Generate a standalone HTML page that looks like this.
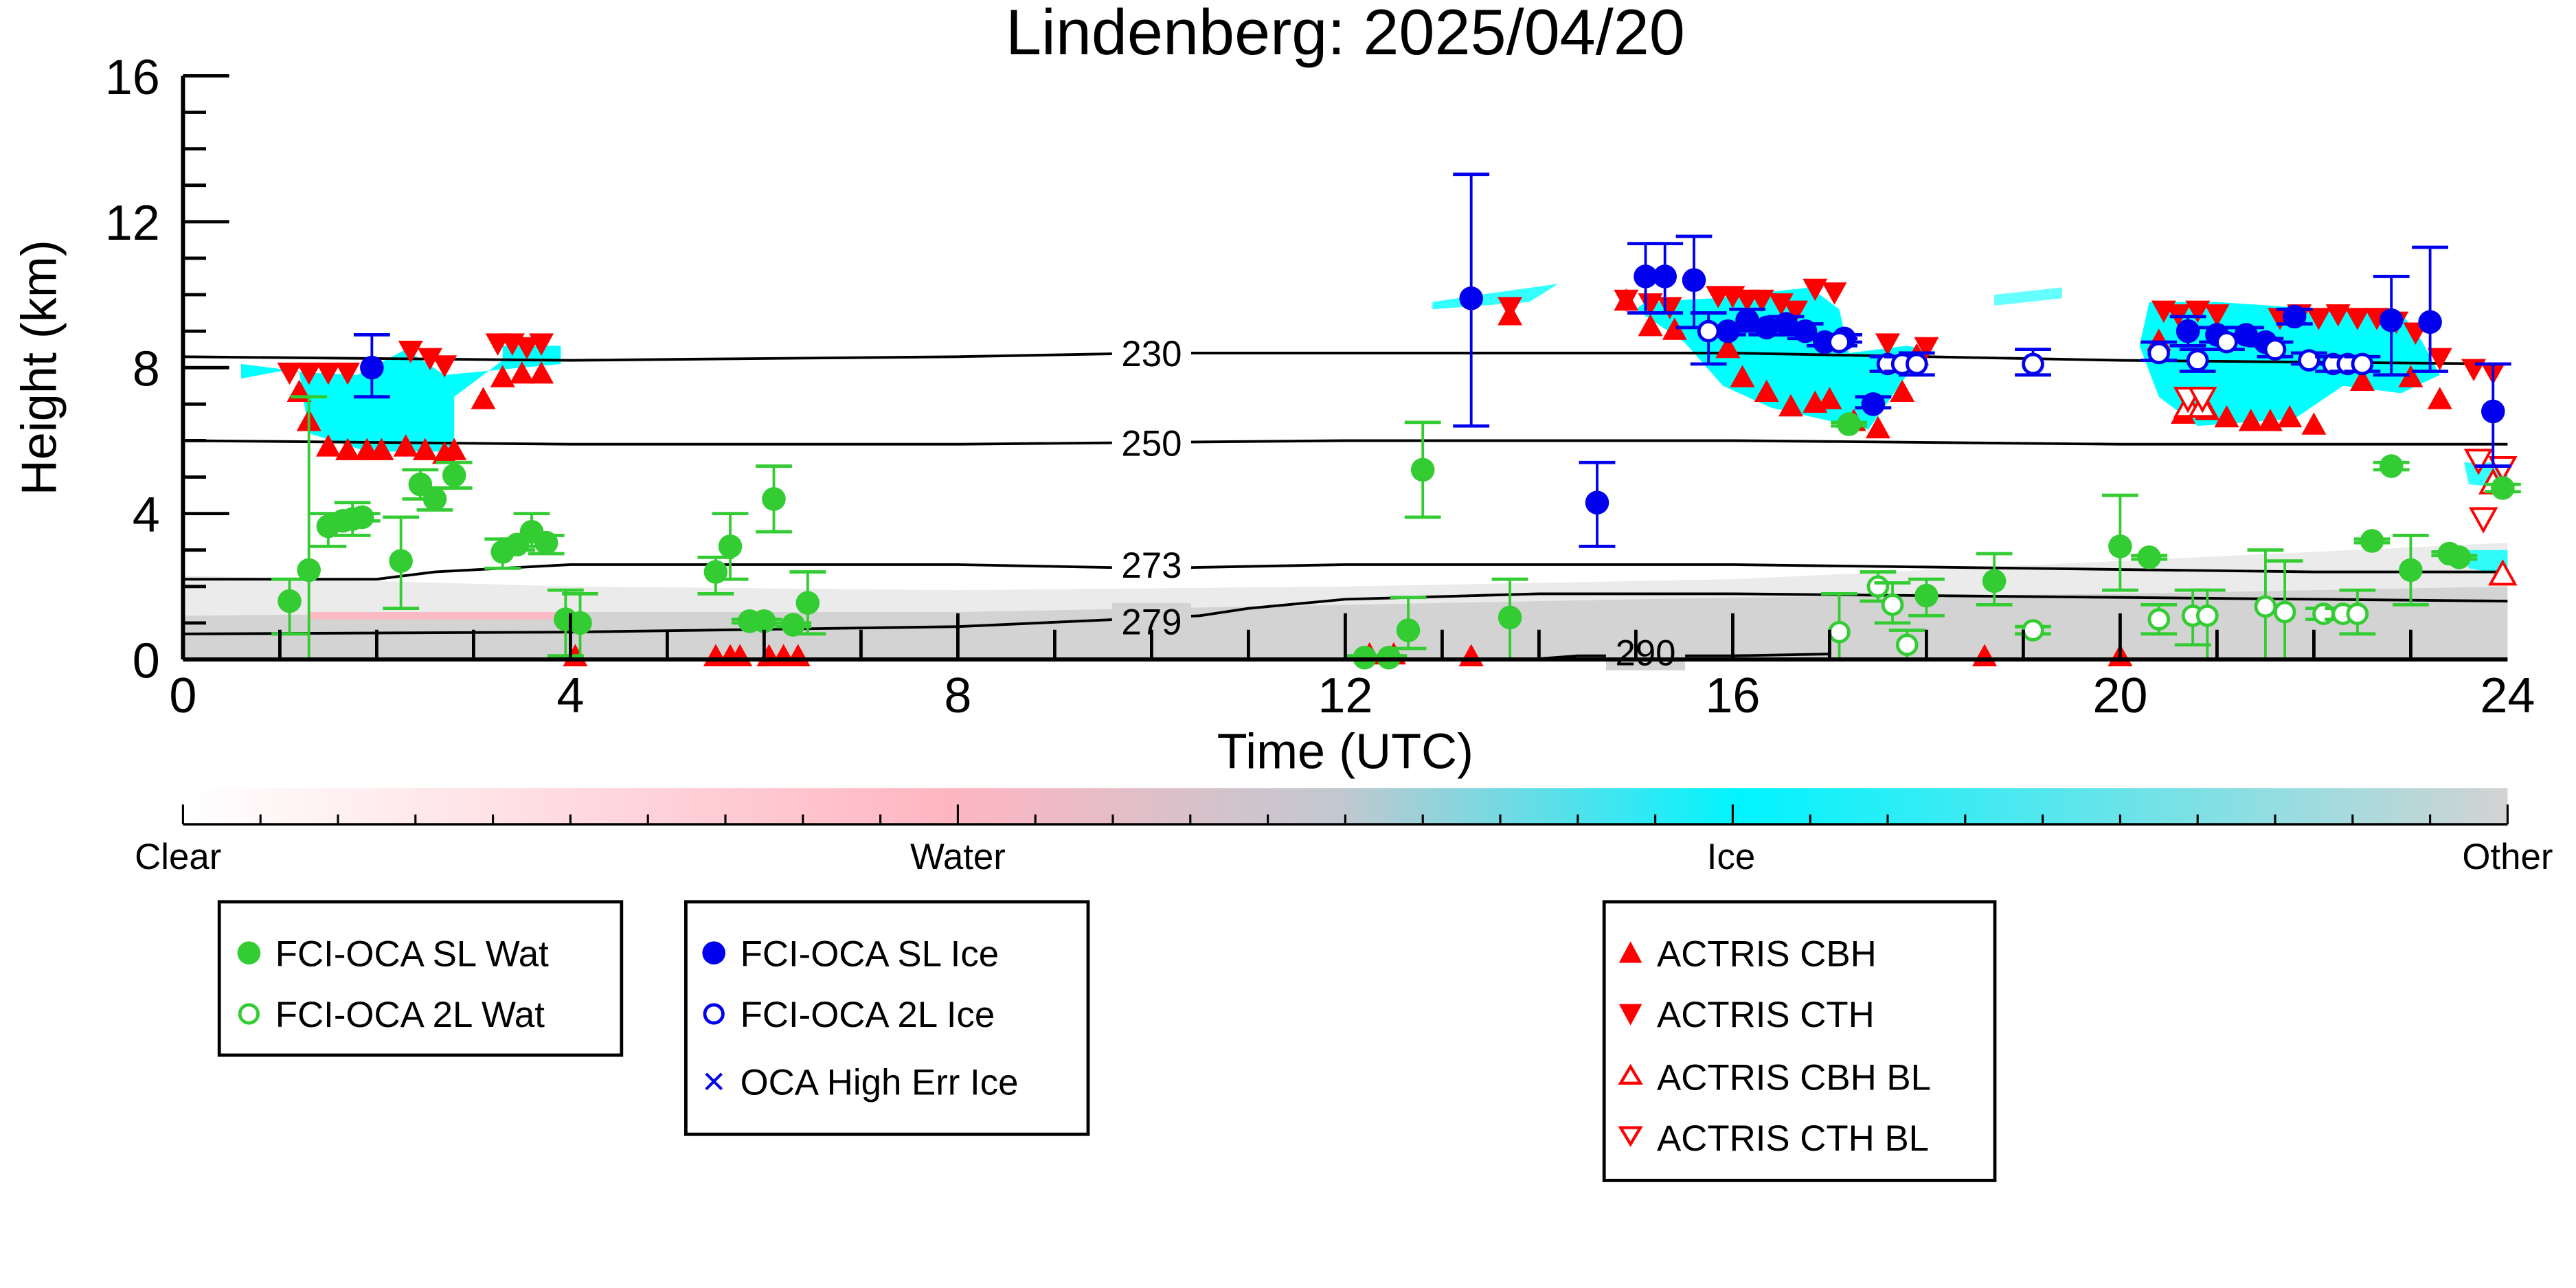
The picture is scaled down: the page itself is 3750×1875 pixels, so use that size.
<!DOCTYPE html>
<html><head><meta charset="utf-8"><style>
html,body{margin:0;padding:0;background:#fff}
svg{display:block}
text{font-family:"Liberation Sans",sans-serif}
</style></head><body>
<svg id="chart" width="3750" height="1875" viewBox="0 0 1562.5 781.25" xmlns="http://www.w3.org/2000/svg">
<defs>
<linearGradient id="cbar" x1="0" x2="1" y1="0" y2="0">
<stop offset="0" stop-color="#ffffff"/><stop offset="0.33" stop-color="#ffb6c1"/><stop offset="0.5" stop-color="#c0c8d0"/><stop offset="0.67" stop-color="#00f4ff"/><stop offset="1" stop-color="#d3d3d3"/>
</linearGradient>
</defs>
<text x="816" y="33" font-size="39" text-anchor="middle">Lindenberg: 2025/04/20</text>
<g id="bg"></g>
<g id="contours"></g>
<g id="marks"></g>
<g id="axes"></g>
<text transform="translate(34,223) rotate(-90)" font-size="30" text-anchor="middle">Height (km)</text>
<text x="816" y="466" font-size="30" text-anchor="middle">Time (UTC)</text>
<g>
<rect x="111" y="478" width="1410" height="22" fill="url(#cbar)"/>
<line x1="111" y1="500" x2="1521" y2="500" stroke="#000" stroke-width="1.5"/>
<g id="cbticks"></g>
<text x="108" y="527" font-size="22" text-anchor="middle">Clear</text>
<text x="581" y="527" font-size="22" text-anchor="middle">Water</text>
<text x="1050" y="527" font-size="22" text-anchor="middle">Ice</text>
<text x="1521" y="527" font-size="22" text-anchor="middle">Other</text>
</g>
<g>
<rect x="133" y="547" width="244" height="93" fill="#fff" stroke="#000" stroke-width="2"/>
<circle cx="151" cy="578" r="7" fill="#33cc33"/><text x="167" y="586" font-size="22">FCI-OCA SL Wat</text>
<circle cx="151" cy="615" r="5.5" fill="#fff" stroke="#33cc33" stroke-width="2"/><text x="167" y="623" font-size="22">FCI-OCA 2L Wat</text>
</g>
<g>
<rect x="416" y="547" width="244" height="141" fill="#fff" stroke="#000" stroke-width="2"/>
<circle cx="433" cy="578" r="7" fill="#0000ee"/><text x="449" y="586" font-size="22">FCI-OCA SL Ice</text>
<circle cx="433" cy="615" r="5.5" fill="#fff" stroke="#0000ee" stroke-width="2"/><text x="449" y="623" font-size="22">FCI-OCA 2L Ice</text>
<text x="433" y="664" font-size="24" fill="#0000ee" text-anchor="middle">×</text><text x="449" y="664" font-size="22">OCA High Err Ice</text>
</g>
<g>
<rect x="973" y="547" width="237" height="169" fill="#fff" stroke="#000" stroke-width="2"/>
<polygon points="982,584 996,584 989,571" fill="#f00"/><text x="1005" y="586" font-size="22">ACTRIS CBH</text>
<polygon points="982,609 996,609 989,622" fill="#f00"/><text x="1005" y="623" font-size="22">ACTRIS CTH</text>
<polygon points="983,657 995,657 989,647" fill="#fff" stroke="#f00" stroke-width="1.8"/><text x="1005" y="661" font-size="22">ACTRIS CBH BL</text>
<polygon points="983,684 995,684 989,694" fill="#fff" stroke="#f00" stroke-width="1.8"/><text x="1005" y="698" font-size="22">ACTRIS CTH BL</text>
</g>
</svg>
<script>
// ---- data ----
const xTicks=[0,4,8,12,16,20,24];
const yTicks=[0,4,8,12,16];
const slWatT=[1.1,1.3,1.5,1.65,1.75,1.85,2.25,2.45,2.6,2.8,3.3,3.45,3.6,3.75,3.95,4.1,5.5,5.65,5.85,6.0,6.1,6.3,6.45,12.2,12.45,12.65,12.8,13.7,17.2,18.0,18.7,20.0,20.3,22.6,22.8,23.0,23.4,23.5,23.95];
const slWatH=[1.6,2.45,3.65,3.8,3.85,3.9,2.7,4.8,4.4,5.05,2.95,3.15,3.5,3.2,1.1,1.0,2.4,3.1,1.05,1.05,4.4,0.95,1.55,0.05,0.05,0.8,5.2,1.15,6.45,1.75,2.15,3.1,2.8,3.25,5.3,2.45,2.9,2.8,4.7];
const slWatLo=[0.7,0,3.1,3.7,3.4,3.8,1.4,4.4,4.1,4.7,2.5,3.0,3.1,2.9,0.1,0,1.8,2.2,1.0,1.0,3.5,0.9,0.7,0,0,0.3,3.9,0,6.4,1.2,1.5,1.9,2.75,3.2,5.2,1.5,2.85,2.75,4.6];
const slWatHi=[2.2,7.2,4.0,3.9,4.3,4.0,3.9,5.2,4.7,5.4,3.3,3.3,4.0,3.4,1.9,1.8,2.8,4.0,1.1,1.1,5.3,1.0,2.4,0.1,0.1,1.7,6.5,2.2,6.5,2.2,2.9,4.5,2.85,3.3,5.4,3.4,2.95,2.85,4.8];
const tlWatT=[17.1,17.5,17.65,17.8,19.1,20.4,20.75,20.9,21.5,21.7,22.1,22.3,22.45];
const tlWatH=[0.75,2.0,1.5,0.4,0.8,1.1,1.2,1.2,1.45,1.3,1.25,1.25,1.25];
const tlWatLo=[0,1.6,1.0,0,0.7,0.7,0.4,0,0,0,1.1,1.1,0.7];
const tlWatHi=[1.8,2.4,2.1,0.8,0.9,1.5,1.9,1.9,3.0,2.7,1.4,1.4,1.9];
const slIceT=[1.95,13.3,14.6,15.1,15.3,15.6,15.95,16.15,16.35,16.55,16.75,16.95,17.15,17.45,20.7,21.0,21.3,21.5,21.8,22.8,23.2,23.85];
const slIceH=[8.0,9.9,4.3,10.5,10.5,10.4,9.0,9.3,9.1,9.2,9.0,8.7,8.8,7.0,9.0,8.9,8.9,8.7,9.4,9.3,9.25,6.8];
const slIceLo=[7.2,6.4,3.1,9.5,9.5,9.1,8.9,9.0,8.9,8.9,8.8,8.6,8.7,6.9,8.6,8.7,8.7,8.6,9.2,7.8,7.9,5.3];
const slIceHi=[8.9,13.3,5.4,11.4,11.4,11.6,9.1,9.6,9.3,9.4,9.2,8.8,8.9,7.2,9.4,9.1,9.1,8.8,9.6,10.5,11.3,8.1];
const tlIceT=[15.75,17.1,17.6,17.75,17.9,19.1,20.4,20.8,21.1,21.6,21.95,22.2,22.35,22.5];
const tlIceH=[9.0,8.7,8.1,8.1,8.1,8.1,8.4,8.2,8.7,8.5,8.2,8.1,8.1,8.1];
const tlIceLo=[8.1,8.6,7.9,7.9,7.8,7.8,8.2,7.9,8.5,8.3,8.1,7.9,7.9,7.9];
const tlIceHi=[9.5,8.8,8.3,8.3,8.4,8.5,8.7,8.5,8.9,8.7,8.4,8.3,8.3,8.3];
const cthT=[1.1,1.3,1.5,1.7,2.35,2.55,2.7,3.25,3.4,3.55,3.7,13.7,14.9,15.15,15.35,15.85,16.0,16.15,16.3,16.5,16.65,16.85,17.05,17.6,18.0,20.45,20.6,20.8,21.0,21.65,21.85,22.05,22.25,22.45,22.65,22.85,23.05,23.3,23.65,23.85];
const cthH=[7.9,7.9,7.9,7.9,8.5,8.3,8.1,8.7,8.7,8.6,8.7,9.7,9.9,9.8,9.7,10.0,10.0,9.9,9.9,9.8,9.6,10.2,10.1,8.7,8.6,9.6,9.5,9.6,9.5,9.4,9.5,9.4,9.5,9.4,9.4,9.3,9.0,8.3,8.0,7.9];
const cbhT=[1.2,1.3,1.5,1.7,1.9,2.05,2.3,2.5,2.7,2.8,3.1,3.3,3.5,3.7,13.7,14.9,15.15,15.4,15.95,16.1,16.35,16.6,16.85,17.0,17.25,17.5,17.75,17.9,20.4,20.65,20.9,21.1,21.35,21.55,21.75,22.0,22.5,23.0,23.3,4.05,5.5,5.65,5.75,6.05,6.2,6.35,12.25,12.5,13.3,18.6,20.0];
const cbhH=[7.3,6.5,5.8,5.7,5.7,5.7,5.8,5.7,5.6,5.7,7.1,7.7,7.8,7.8,9.4,9.8,9.1,9.0,8.5,7.7,7.3,6.9,7.0,7.1,6.5,6.3,7.3,8.3,8.7,6.7,6.8,6.6,6.5,6.5,6.6,6.4,7.6,7.7,7.1,0.05,0.05,0.05,0.05,0.05,0.05,0.05,0.1,0.1,0.05,0.05,0.05];
const cbhBlT=[20.7,20.85,23.85,23.95];
const cbhBlH=[6.9,6.9,4.8,2.3];
const cthBlT=[20.7,20.85,23.7,23.95,23.75];
const cthBlH=[7.2,7.2,5.5,5.3,3.9];
const c230=[[0,8.3],[4,8.2],[8,8.3],[10,8.4],[12,8.4],[16,8.4],[20,8.2],[24,8.1]];
const c250=[[0,6.0],[4,5.9],[8,5.9],[12,6.0],[16,6.0],[20,5.9],[24,5.9]];
const c273=[[0,2.2],[2,2.2],[2.6,2.4],[4,2.6],[8,2.6],[10,2.5],[12,2.6],[16,2.6],[19,2.5],[22,2.4],[24,2.4]];
const c279=[[0,0.7],[4,0.75],[8,0.9],[10.5,1.2],[11,1.4],[12,1.65],[14,1.8],[16,1.8],[20,1.7],[24,1.6]];
const c290=[[13.9,0],[14.4,0.1],[16,0.1],[17,0.15]];
// ---- scales ----
const X0=111,X1=1521,Y0=400,Y1=46;
const sx=t=>X0+(t/24)*(X1-X0);
const sy=h=>Y0-(h/16)*(Y0-Y1);
const NS='http://www.w3.org/2000/svg';
function mk(tag,attrs,parent){const e=document.createElementNS(NS,tag);for(const k in attrs)e.setAttribute(k,attrs[k]);parent.appendChild(e);return e;}
const bg=document.getElementById('bg'),ct=document.getElementById('contours'),mg=document.getElementById('marks'),ax=document.getElementById('axes');
// background
function region(pts,fill,op){const p=mk('polygon',{points:pts.map(q=>sx(q[0])+','+sy(q[1])).join(' '),fill:fill,opacity:op},bg);

}
region([[0,0],[0,1.2],[4,1.3],[8,1.3],[12,1.5],[16,1.7],[20,1.8],[24,2.0],[24,0]],'#d3d3d3',1);
region([[0,1.2],[0,2.3],[4,2.0],[8,1.9],[12,2.0],[16,2.2],[20,2.7],[24,3.2],[24,2.0],[20,1.8],[16,1.7],[12,1.5],[8,1.3],[4,1.3]],'#d3d3d3',0.45);
region([[1.3,1.1],[1.3,1.3],[3.9,1.3],[3.9,1.1]],'#ffb6c1',0.9);
region([[0.6,8.1],[1.2,7.9],[1.3,6.2],[1.9,5.7],[2.8,5.7],[2.8,7.2],[3.3,8.2],[3.3,8.6],[3.9,8.6],[3.9,8.1],[2.7,7.8],[2.3,8.5],[1.8,7.8],[1.0,7.9],[0.6,7.7]],'#00ffff',1);
region([[15.1,9.8],[15.8,9.9],[16.8,10.2],[17.1,9.6],[17.2,8.4],[17.8,8.6],[18.0,8.5],[17.8,7.8],[17.4,6.3],[16.4,6.9],[15.9,7.5],[15.5,8.7],[15.0,9.6]],'#00ffff',1);
region([[20.3,9.8],[21.0,9.8],[22.1,9.6],[22.9,9.5],[23.1,8.8],[23.3,7.8],[22.9,7.3],[22.3,7.5],[21.8,6.6],[20.8,6.4],[20.4,7.2],[20.2,8.6]],'#00ffff',1);
region([[12.9,9.8],[13.4,10.0],[14.2,10.3],[13.9,9.8],[13.4,9.7],[12.9,9.6]],'#00ffff',0.8);
region([[18.7,10.0],[19.4,10.2],[19.4,9.9],[18.7,9.7]],'#00ffff',0.6);
region([[23.55,5.4],[24,5.4],[24,4.7],[23.6,4.8]],'#00ffff',0.8);
region([[23.55,3.0],[24,3.0],[24,2.3],[23.6,2.5]],'#00ffff',0.8);
// contours
function cline(arr,name){const p=mk('polyline',{points:arr.map(q=>sx(q[0])+','+sy(q[1])).join(' '),fill:'none',stroke:'#000','stroke-width':1.6},ct);

}
cline(c230,'contour-230');cline(c250,'contour-250');cline(c273,'contour-273');cline(c279,'contour-279');cline(c290,'contour-290');
[['230',8.4,10,'#fff'],['250',5.95,10,'#fff'],['273',2.6,10,'#fff'],['279',1.05,10,'#d3d3d3'],['290',0.2,15.1,'#d3d3d3']].forEach(l=>{
const x=sx(l[2]),y=sy(l[1]);
mk('rect',{x:x-24,y:y-11,width:48,height:22,fill:l[3]},ct);
const t=mk('text',{x:x,y:y+8,'font-size':22,'text-anchor':'middle'},ct);t.textContent=l[0];


});
// marks
function errbar(t,lo,hi,col){const x=sx(t);mk('line',{x1:x,x2:x,y1:sy(lo),y2:sy(hi),stroke:col,'stroke-width':1.6},mg);
[lo,hi].forEach(v=>mk('line',{x1:x-11,x2:x+11,y1:sy(v),y2:sy(v),stroke:col,'stroke-width':2},mg));}
function dot(t,h,col,open,name){const c=mk('circle',{cx:sx(t),cy:sy(h),r:open?5.8:7.2,fill:open?'#fff':col,stroke:col,'stroke-width':open?2:0},mg);

}
function tri(t,h,up,open,name){const x=sx(t),y=sy(h),s=7.5;
const pts=up?[[x-s,y+s*0.7],[x+s,y+s*0.7],[x,y-s*1.1]]:[[x-s,y-s*0.7],[x+s,y-s*0.7],[x,y+s*1.1]];
const p=mk('polygon',{points:pts.map(q=>q.join(',')).join(' '),fill:open?'#fff':'#f00',stroke:'#f00','stroke-width':open?1.6:0},mg);

}
cbhT.forEach((t,i)=>tri(t,cbhH[i],true,false,'actris-cbh'));
cthT.forEach((t,i)=>tri(t,cthH[i],false,false,'actris-cth'));
cbhBlT.forEach((t,i)=>tri(t,cbhBlH[i],true,true,'actris-cbh-bl'));
cthBlT.forEach((t,i)=>tri(t,cthBlH[i],false,true,'actris-cth-bl'));
slWatT.forEach((t,i)=>{errbar(t,slWatLo[i],slWatHi[i],'#33cc33');dot(t,slWatH[i],'#33cc33',false,'sl-water-point');});
tlWatT.forEach((t,i)=>{errbar(t,tlWatLo[i],tlWatHi[i],'#33cc33');dot(t,tlWatH[i],'#33cc33',true,'2l-water-point');});
slIceT.forEach((t,i)=>{errbar(t,slIceLo[i],slIceHi[i],'#0000ee');dot(t,slIceH[i],'#0000ee',false,'sl-ice-point');});
tlIceT.forEach((t,i)=>{errbar(t,tlIceLo[i],tlIceHi[i],'#0000ee');dot(t,tlIceH[i],'#0000ee',true,'2l-ice-point');});
// axes
mk('line',{x1:X0,x2:X0,y1:Y1,y2:Y0,stroke:'#000','stroke-width':2.5},ax);
mk('line',{x1:X0,x2:X1,y1:Y0,y2:Y0,stroke:'#000','stroke-width':2.5},ax);
for(let h=0;h<=16;h++){const y=sy(h);mk('line',{x1:X0,x2:X0+(h%4?14:28),y1:y,y2:y,stroke:'#000','stroke-width':2},ax);}
yTicks.forEach(h=>{const t=mk('text',{x:X0-14,y:sy(h)+11,'font-size':30,'text-anchor':'end'},ax);t.textContent=h;

});
for(let h=1;h<24;h++){const x=sx(h);mk('line',{x1:x,x2:x,y1:Y0,y2:Y0-(h%4?18:28),stroke:'#000','stroke-width':2},ax);}
xTicks.forEach(h=>{const t=mk('text',{x:sx(h),y:Y0+32,'font-size':30,'text-anchor':'middle'},ax);t.textContent=h;

});
const cbt=document.getElementById('cbticks');
for(let i=0;i<=30;i++){const x=X0+i*(X1-X0)/30;mk('line',{x1:x,x2:x,y1:500,y2:i%10?494:488,stroke:'#000','stroke-width':1.3},cbt);}
</script>
</body></html>
